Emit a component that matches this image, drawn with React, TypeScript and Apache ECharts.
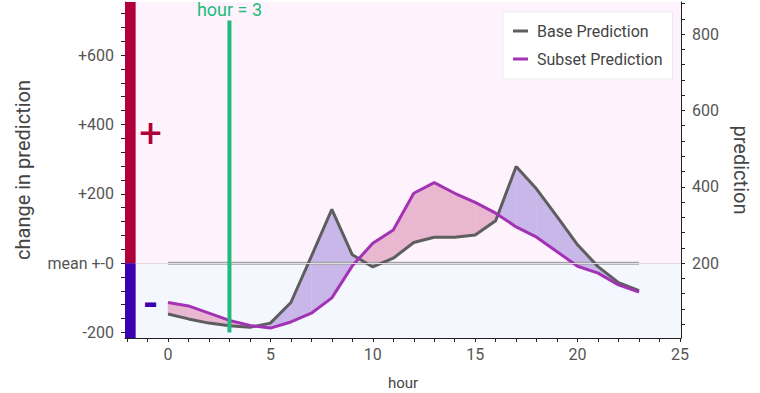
import React, { useEffect, useRef } from "react";
import * as echarts from "echarts";

const hours = [0, 1, 2, 3, 4, 5, 6, 7, 8, 9, 10, 11, 12, 13, 14, 15, 16, 17, 18, 19, 20, 21, 22, 23];
const basePrediction = [67, 54, 43, 36, 32, 43, 97, 218, 341, 222, 190, 213, 254, 268, 268, 274, 311, 453, 394, 322, 248, 191, 149, 128];
const subsetPrediction = [97, 88, 69, 50, 37, 30, 46, 69, 109, 193, 252, 287, 383, 411, 383, 359, 331, 295, 268, 230, 192, 174, 143, 124];
const meanPrediction = 200;
const selectedHour = 3;
const selectedRange = [-200, 700];
const changeTickLabels = [-200, 0, 200, 400, 600];
const predictionTickLabels = [200, 400, 600, 800];
const hourTickLabels = [0, 5, 10, 15, 20, 25];

const X_MIN = -2.1;
const X_MAX = 25.05;
const Y_MIN = 4;
const Y_MAX = 884;
const BAR_RIGHT = -1.58;

const range = (a: number, b: number, step: number) => {
  const out: number[] = [];
  for (let v = a; v <= b + 1e-9; v += step) out.push(v);
  return out;
};

const FONT = "Roboto";
const PINK_FILL = "#e9b8d0";
const LAV_FILL = "#cab7ea";

export default function App() {
  const ref = useRef<HTMLDivElement>(null);
  useEffect(() => {
    if (!ref.current) return;
    const chart = echarts.init(ref.current, undefined, { renderer: "svg" });

    const fillRender = (params: any, api: any) => {
      const i = params.dataIndex;
      if (i >= hours.length - 1) return null;
      const h0 = hours[i], h1 = hours[i + 1];
      const b0 = api.coord([h0, basePrediction[i]]);
      const b1 = api.coord([h1, basePrediction[i + 1]]);
      const s0 = api.coord([h0, subsetPrediction[i]]);
      const s1 = api.coord([h1, subsetPrediction[i + 1]]);
      const d0 = subsetPrediction[i] - basePrediction[i];
      const d1 = subsetPrediction[i + 1] - basePrediction[i + 1];
      const col = (d: number) => (d > 0 ? PINK_FILL : LAV_FILL);
      const children: any[] = [];
      if (d0 * d1 >= 0) {
        children.push({
          type: "polygon",
          shape: { points: [b0, b1, s1, s0] },
          style: { fill: col(d0 + d1), stroke: col(d0 + d1), lineWidth: 0.5 },
        });
      } else {
        const t = d0 / (d0 - d1);
        const c = api.coord([
          h0 + t * (h1 - h0),
          basePrediction[i] + t * (basePrediction[i + 1] - basePrediction[i]),
        ]);
        children.push({
          type: "polygon",
          shape: { points: [b0, c, s0] },
          style: { fill: col(d0), stroke: col(d0), lineWidth: 0.5 },
        });
        children.push({
          type: "polygon",
          shape: { points: [c, b1, s1] },
          style: { fill: col(d1), stroke: col(d1), lineWidth: 0.5 },
        });
      }
      return { type: "group", children };
    };

    const option: any = {
      animation: false,
      textStyle: { fontFamily: FONT },
      grid: { left: 125, right: 79, top: 2, bottom: 55, containLabel: false, outerBoundsMode: "none" },
      legend: {
        orient: "vertical",
        left: 503,
        top: 12,
        padding: [11, 10, 12, 10],
        itemGap: 12,
        itemWidth: 15,
        itemHeight: 3,
        icon: "rect",
        backgroundColor: "#ffffff",
        borderColor: "#ececec",
        borderWidth: 1,
        textStyle: { fontFamily: FONT, fontSize: 16, color: "#444", padding: [0, 0, 0, 4] },
        data: ["Base Prediction", "Subset Prediction"],
      },
      xAxis: {
        type: "value",
        min: X_MIN,
        max: X_MAX,
        name: "hour",
        nameLocation: "middle",
        nameGap: 37,
        nameTextStyle: { fontFamily: FONT, fontSize: 15, color: "#444" },
        axisLine: { show: true, onZero: false, lineStyle: { color: "#222", width: 1 } },
        axisTick: { show: true, length: 4, lineStyle: { color: "#222" }, customValues: range(-2, 25, 1) },
        axisLabel: { fontFamily: FONT, fontSize: 16, color: "#555", margin: 8, customValues: hourTickLabels },
        splitLine: { show: false },
      },
      yAxis: [
        {
          type: "value",
          position: "left",
          min: -216,
          max: 753,
          name: "change in prediction",
          nameLocation: "middle",
          nameGap: 92,
          nameTextStyle: { fontFamily: FONT, fontSize: 20, color: "#444" },
          axisLine: { show: true, onZero: false, lineStyle: { color: "#222" } },
          axisTick: { show: true, length: 4, lineStyle: { color: "#222" }, customValues: range(-200, 720, 40) },
          axisLabel: {
            fontFamily: FONT,
            fontSize: 16,
            color: "#555",
            margin: 11,
            customValues: changeTickLabels,
            formatter: (v: number) => (v === 0 ? "mean +-0" : v > 0 ? "+" + v : String(v)),
          },
          splitLine: { show: false },
        },
        {
          type: "value",
          position: "right",
          min: Y_MIN,
          max: Y_MAX,
          name: "prediction",
          nameLocation: "middle",
          nameGap: 50,
          nameRotate: -90,
          nameTextStyle: { fontFamily: FONT, fontSize: 20, color: "#444" },
          axisLine: { show: true, onZero: false, lineStyle: { color: "#222" } },
          axisTick: { show: true, length: 4, lineStyle: { color: "#222" }, customValues: range(40, 880, 40) },
          axisLabel: { fontFamily: FONT, fontSize: 16, color: "#555", margin: 11, customValues: predictionTickLabels },
          splitLine: { show: false },
        },
      ],
      series: [
        {
          name: "bg",
          type: "line",
          yAxisIndex: 1,
          z: 0,
          data: [[0, meanPrediction]],
          showSymbol: false,
          symbol: "none",
          lineStyle: { opacity: 0 },
          silent: true,
          markArea: {
            silent: true,
            label: { show: false },
            data: [
              [{ coord: [X_MIN, meanPrediction], itemStyle: { color: "#fef3fc" } }, { coord: [X_MAX, Y_MAX] }],
              [{ coord: [X_MIN, Y_MIN], itemStyle: { color: "#f4f7fe" } }, { coord: [X_MAX, meanPrediction] }],
              [{ coord: [X_MIN, meanPrediction], itemStyle: { color: "#b0003a" } }, { coord: [BAR_RIGHT, Y_MAX] }],
              [{ coord: [X_MIN, Y_MIN], itemStyle: { color: "#3a00b0" } }, { coord: [BAR_RIGHT, meanPrediction] }],
            ],
          },
          markLine: {
            silent: true,
            symbol: "none",
            label: { show: false },
            lineStyle: { color: "#e2dce6", width: 1, type: "solid" },
            data: [[{ coord: [BAR_RIGHT, meanPrediction] }, { coord: [X_MAX, meanPrediction] }]],
          },
        },
        {
          name: "fill",
          type: "custom",
          yAxisIndex: 1,
          z: 1,
          silent: true,
          renderItem: fillRender,
          data: hours.map((h, i) => [h, basePrediction[i]]),
        },
        {
          name: "mean",
          type: "line",
          yAxisIndex: 1,
          z: 2,
          symbol: "none",
          silent: true,
          lineStyle: { color: "#a3a3a3", width: 3 },
          data: [[hours[0], meanPrediction], [hours[hours.length - 1], meanPrediction]],
        },
        {
          name: "Base Prediction",
          type: "line",
          yAxisIndex: 1,
          z: 3,
          symbol: "none",
          color: "#5e5e5e",
          lineStyle: { color: "#5e5e5e", width: 3 },
          data: hours.map((h, i) => [h, basePrediction[i]]),
        },
        {
          name: "Subset Prediction",
          type: "line",
          yAxisIndex: 1,
          z: 4,
          symbol: "none",
          color: "#a233b5",
          lineStyle: { color: "#a233b5", width: 3 },
          data: hours.map((h, i) => [h, subsetPrediction[i]]),
        },
        {
          name: "selected",
          type: "line",
          yAxisIndex: 0,
          z: 5,
          symbol: "none",
          silent: true,
          lineStyle: { color: "#1dbb7c", width: 4 },
          data: [
            [selectedHour, selectedRange[0]],
            [selectedHour, selectedRange[1]],
          ],
          markPoint: {
            silent: true,
            symbol: "circle",
            symbolSize: 0,
            label: {
              show: true,
              position: "top",
              distance: 2,
              formatter: "hour = " + selectedHour,
              fontFamily: FONT,
              fontSize: 18,
              color: "#1dbb7c",
            },
            data: [{ coord: [selectedHour, selectedRange[1]] }],
          },
        },
      ],
      graphic: [
        {
          type: "text",
          x: 150.5,
          y: 133,
          style: { text: "+", font: "normal 40px Roboto", fill: "#b0003a", align: "center", verticalAlign: "middle" },
          z: 10,
        },
        {
          type: "text",
          x: 150.5,
          y: 303,
          style: { text: "-", font: "bold 40px Roboto", fill: "#3a00b0", align: "center", verticalAlign: "middle" },
          z: 10,
        },
      ],
    };
    chart.setOption(option);
    return () => chart.dispose();
  }, []);
  return <div ref={ref} style={{ position: "absolute", left: 0, top: 0, width: 760, height: 393 }} />;
}
